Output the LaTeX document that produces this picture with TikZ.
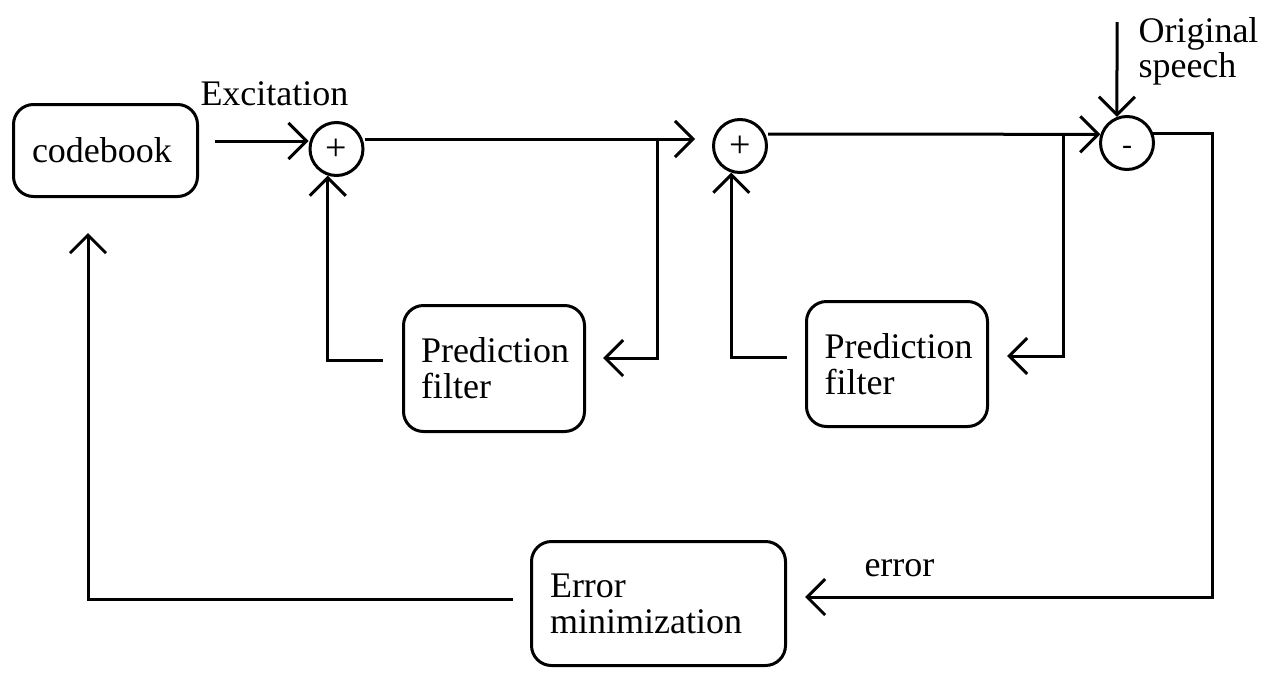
\documentclass[tikz,border=0pt]{standalone}
\usepackage{fontspec}
\setmainfont{Liberation Serif}
\usetikzlibrary{arrows.meta}
\begin{document}
\begin{tikzpicture}[x=1pt,y=-1pt, line width=3pt,
  every node/.style={font=\fontsize{36}{36}\selectfont},
  blk/.style={draw, rounded corners=20pt, align=left, inner ysep=0pt},
  sumnode/.style={draw, circle, minimum size=53pt, inner sep=0pt},
  lbl/.style={inner sep=0pt, anchor=base west},
  flow/.style={-{Straight Barb[length=18pt,width=36pt]}}
]
\useasboundingbox (0,0) rectangle (1276,672);

% blocks
\node[blk, text width=147pt, inner xsep=18.5pt, minimum height=92pt] (codebook) at (105.5,150.5) {codebook};
\node[blk, text width=146pt, inner xsep=17.5pt, minimum height=126pt] (pf1) at (494,368.5) {Prediction\\filter};
\node[blk, text width=145pt, inner xsep=18pt, minimum height=125pt] (pf2) at (897,364) {Prediction\\filter};
\node[blk, text width=217pt, inner xsep=18.5pt, minimum height=124pt] (errmin) at (658.5,603.5) {Error\\minimization};

% summing junctions
\node[sumnode, font=\fontsize{38}{38}\selectfont, text height=23pt, text depth=0pt] (add1) at (336.5,149) {+};
\node[sumnode, font=\fontsize{38}{38}\selectfont, text height=23pt, text depth=0pt] (add2) at (740,146) {+};
\node[sumnode, font=\fontsize{30}{30}\selectfont, text height=22pt, text depth=0pt] (sub) at (1127,143) {-};

% free ends and corners
\coordinate (cbout) at (215,141);
\coordinate (tip2) at (695,139);
\coordinate (j1) at (657,139);
\coordinate (p1tip) at (603,358);
\coordinate (p1out) at (383,360);
\coordinate (j2) at (1063,134);
\coordinate (p2tip) at (1007,356);
\coordinate (p2out) at (787,357);
\coordinate (osin) at (1117,22);
\coordinate (rx) at (1212,0);
\coordinate (errtip) at (805,597);
\coordinate (emout) at (513,599);
\coordinate (cbin) at (88,233);

% signal paths
\draw[flow] (cbout) -- (cbout -| add1.west);
\draw[flow] (add1.east |- tip2) -- (tip2);
\draw[flow] (j1) |- (p1tip);
\draw[flow] (p1out) -| (add1.252);
\draw[flow] (add2.east |- j2) -- (sub.162);
\draw[flow] (j2) |- (p2tip);
\draw[flow] (p2out) -| (add2.252);
\draw[flow] (osin) -- (sub.111);
\draw[flow] (sub.20) -| (rx |- errtip) -- (errtip);
\draw[flow] (emout) -| (cbin);

% labels
\node[lbl] (exc) at (199,105) {Excitation};
\node[lbl] (orig1) at (1137,42) {Original};
\node[lbl] (orig2) at (1137,77) {speech};
\node[lbl] (err) at (863,576) {error};
\end{tikzpicture}
\end{document}
